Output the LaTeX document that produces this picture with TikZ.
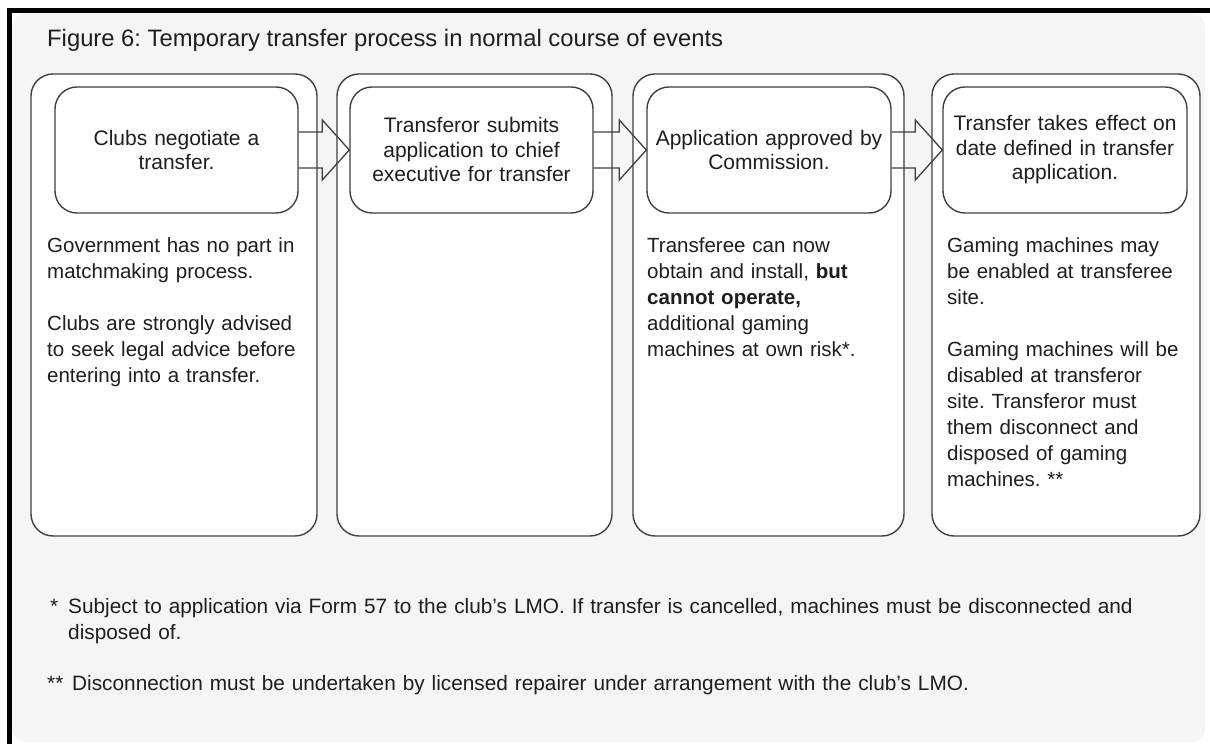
\documentclass[tikz,border=0pt]{standalone}
\usepackage{fontspec}
\setmainfont{Liberation Sans}
\frenchspacing
\definecolor{panelgray}{HTML}{F5F5F5}
\definecolor{linegray}{HTML}{404040}
\definecolor{textgray}{HTML}{1E1E1E}
\tikzset{
  column/.style={draw=linegray, line width=1.4pt, fill=white, rounded corners=22pt,
    inner sep=0pt, minimum height=462pt, minimum width=#1},
  stepbox/.style={draw=linegray, line width=1.4pt, fill=white, rounded corners=22pt,
    inner sep=0pt, minimum height=126pt, minimum width=#1, text width=#1-10pt,
    align=center, text=textgray, font=\fontsize{21}{24.5}\selectfont},
  body/.style={anchor=base west, inner sep=0pt, text width=262pt, align=left,
    text=textgray, font=\fontsize{20.5}{26}\selectfont},
  footnote/.style={body, font=\fontsize{20.8}{26}\selectfont},
  flowarrow/.style={draw=linegray, line width=1.3pt, line join=miter}
}
\begin{document}
\begin{tikzpicture}[x=1pt, y=1pt]
        \useasboundingbox (0,0) rectangle (1210,744);
        \fill[white] (0,0) rectangle (1210,744);
        \fill[panelgray, rounded corners=14pt] (12,2) rectangle (1205,731);
        \fill[black] (7,731) rectangle (1210,736);
        \fill[black] (7,0) rectangle (12,736);

        \node[anchor=base west, inner sep=0pt, text=textgray,
          font=\fontsize{23.8}{28}\selectfont] (title) at (47,697.5)
          {Figure 6: Temporary transfer process in normal course of events};

        \node[column=286pt] (c1) at (174,439) {};
        \node[column=275pt] (c2) at (474.5,439) {};
        \node[column=271pt] (c3) at (768.5,439) {};
        \node[column=268pt] (c4) at (1066,439) {};

        \node[stepbox=243pt] (in1) at (176.5,594) {Clubs negotiate a\\ transfer.};
        \node[stepbox=243pt] (in2) at (471.5,594)
          {Transferor submits\\ application to chief\\ executive for transfer};
        \node[stepbox=244pt] (in3) at (769,594) {Application approved by\\ Commission.};
        \node[stepbox=244pt] (in4) at (1065,594)
          {Transfer takes effect on\\ date defined in transfer\\ application.};

        \draw[flowarrow] ([yshift=18pt]in1.east) -- ([xshift=-27pt, yshift=18pt]in2.west)
          -- ([xshift=-27pt, yshift=30pt]in2.west) -- (in2.west)
          -- ([xshift=-27pt, yshift=-30pt]in2.west) -- ([xshift=-27pt, yshift=-18pt]in2.west)
          -- ([yshift=-18pt]in1.east);
        \draw[flowarrow] ([yshift=18pt]in2.east) -- ([xshift=-27pt, yshift=18pt]in3.west)
          -- ([xshift=-27pt, yshift=30pt]in3.west) -- (in3.west)
          -- ([xshift=-27pt, yshift=-30pt]in3.west) -- ([xshift=-27pt, yshift=-18pt]in3.west)
          -- ([yshift=-18pt]in2.east);
        \draw[flowarrow] ([yshift=18pt]in3.east) -- ([xshift=-27pt, yshift=18pt]in4.west)
          -- ([xshift=-27pt, yshift=30pt]in4.west) -- (in4.west)
          -- ([xshift=-27pt, yshift=-30pt]in4.west) -- ([xshift=-27pt, yshift=-18pt]in4.west)
          -- ([yshift=-18pt]in3.east);

        \node[body] (note1) at (47,491.5)
          {Government has no part in\\ matchmaking process.\\[26pt]
           Clubs are strongly advised\\ to seek legal advice before\\ entering into a transfer.};
        \node[body] (note3) at (647,491.5)
          {Transferee can now\\ obtain and install, \textbf{but}\\ \textbf{cannot operate,}\\
           additional gaming\\ machines at own risk*.};
        \node[body] (note4) at (947,491.5)
          {Gaming machines may\\ be enabled at transferee\\ site.\\[26pt]
           Gaming machines will be\\ disabled at transferor\\ site. Transferor must\\
           them disconnect and\\ disposed of gaming\\ machines. **};

        \node[footnote] (mark1) at (50,130.5) {*};
        \node[footnote, text width=1120pt] (foot1) at (68,130.5)
          {Subject to application via Form 57 to the club's LMO. If transfer is cancelled, machines must be disconnected and\\ disposed of.};
        \node[footnote] (mark2) at (47,53.5) {**};
        \node[footnote, text width=1120pt] (foot2) at (72,53.5)
          {Disconnection must be undertaken by licensed repairer under arrangement with the club's LMO.};
      \end{tikzpicture}
\end{document}
